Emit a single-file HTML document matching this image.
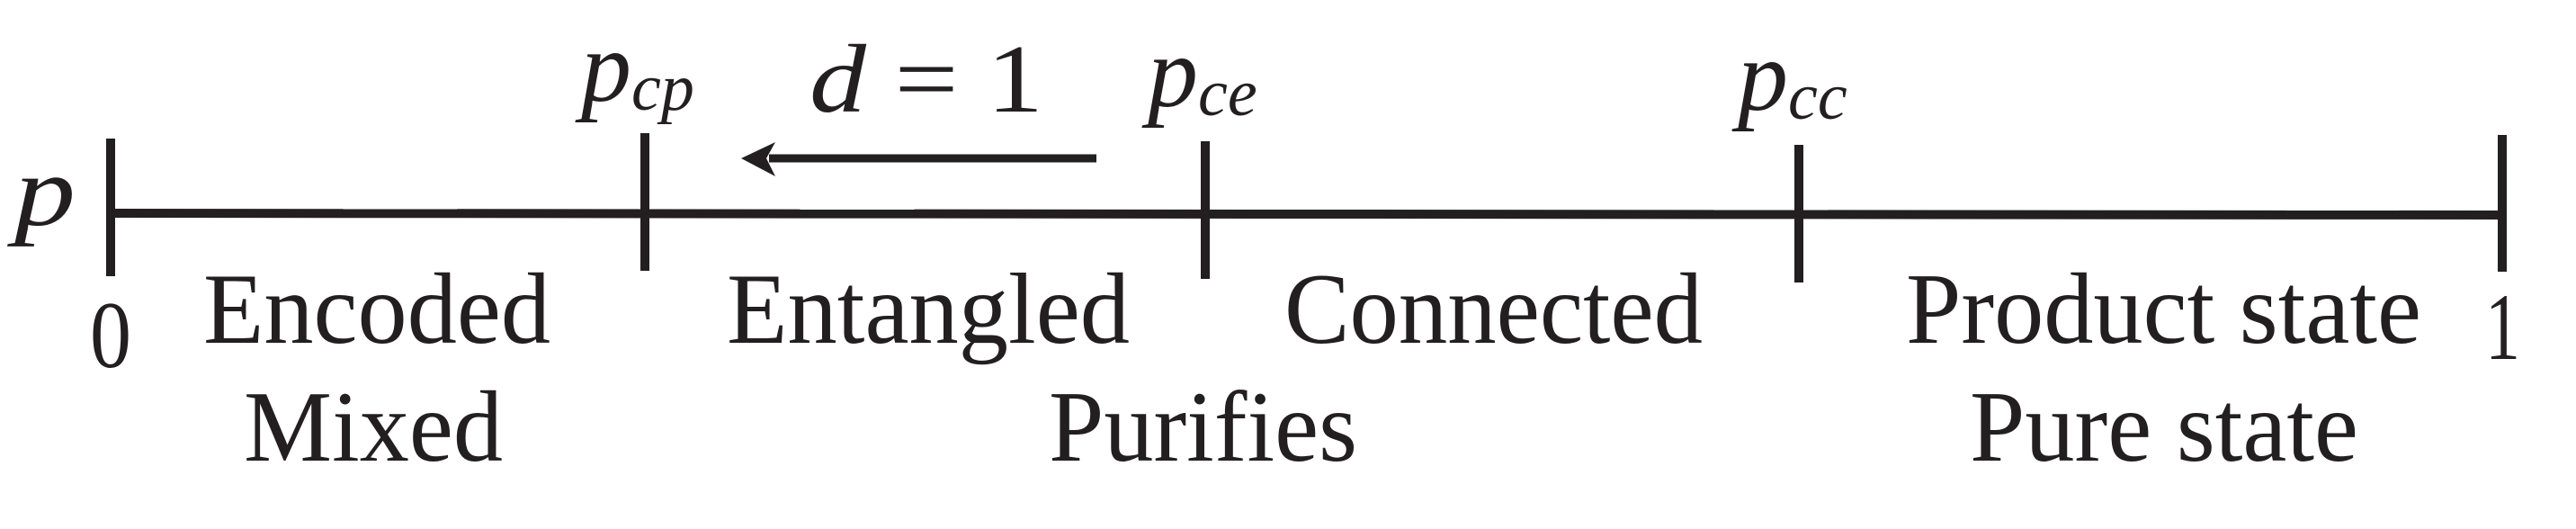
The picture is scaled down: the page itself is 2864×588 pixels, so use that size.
<!DOCTYPE html>
<html><head><meta charset="utf-8"><style>
html,body{margin:0;padding:0;background:#fff;}
svg{display:block;}
text{font-family:"Liberation Serif",serif;fill:#231f20;}
.it{font-style:italic;}
</style></head><body>
<svg width="2864" height="588" viewBox="0 0 2864 588">
<line x1="123" y1="237" x2="2782" y2="239" stroke="#231f20" stroke-width="10"/>
<line x1="123" y1="154" x2="123" y2="307" stroke="#231f20" stroke-width="10"/>
<line x1="717" y1="148" x2="717" y2="301" stroke="#231f20" stroke-width="10"/>
<line x1="1340" y1="157" x2="1340" y2="310" stroke="#231f20" stroke-width="10"/>
<line x1="2000" y1="161" x2="2000" y2="314" stroke="#231f20" stroke-width="10"/>
<line x1="2782" y1="150" x2="2782" y2="302" stroke="#231f20" stroke-width="10"/>
<g>
<line x1="855" y1="176" x2="1219" y2="176" stroke="#231f20" stroke-width="9"/>
<polygon points="824,176 862,158 852,176 862,196" fill="#231f20"/>
</g>
<text x="16" y="250" font-size="112" class="it" textLength="68" lengthAdjust="spacingAndGlyphs">p</text>
<text x="100" y="408" font-size="106" textLength="46" lengthAdjust="spacingAndGlyphs">0</text>
<text x="2763" y="399" font-size="106" textLength="39" lengthAdjust="spacingAndGlyphs">1</text>
<text x="646" y="112" font-size="112" class="it">p<tspan font-size="74" dy="10">cp</tspan></text>
<text x="1276" y="118" font-size="112" class="it">p<tspan font-size="74" dy="10">ce</tspan></text>
<text x="1932" y="122" font-size="112" class="it">p<tspan font-size="74" dy="10">cc</tspan></text>
<text x="900" y="124" font-size="108" textLength="260" lengthAdjust="spacingAndGlyphs"><tspan class="it">d</tspan> = 1</text>
<text x="226" y="381" font-size="112" textLength="386" lengthAdjust="spacingAndGlyphs">Encoded</text>
<text x="271" y="512" font-size="112" textLength="288" lengthAdjust="spacingAndGlyphs">Mixed</text>
<text x="808" y="381" font-size="112" textLength="448" lengthAdjust="spacingAndGlyphs">Entangled</text>
<text x="1166" y="512" font-size="112" textLength="343" lengthAdjust="spacingAndGlyphs">Purifies</text>
<text x="1428" y="381" font-size="112" textLength="465" lengthAdjust="spacingAndGlyphs">Connected</text>
<text x="2119" y="381" font-size="112" textLength="573" lengthAdjust="spacingAndGlyphs">Product state</text>
<text x="2190" y="512" font-size="112" textLength="432" lengthAdjust="spacingAndGlyphs">Pure state</text>
</svg>
</body></html>
